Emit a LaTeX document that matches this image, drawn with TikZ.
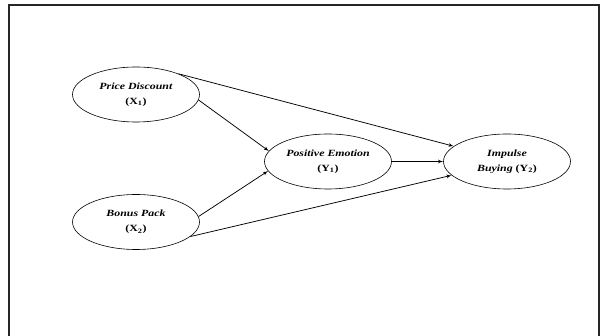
\documentclass[tikz,border=0pt]{standalone}
\usepackage{fontspec}
\setmainfont{Liberation Serif}
\newfontfamily\widefont[FakeStretch=1.25]{Liberation Serif}
\usetikzlibrary{arrows}
\usetikzlibrary{shapes.geometric}

\begin{document}
\begin{tikzpicture} [x=1pt, y=-1pt,
  var/.style={draw, line width=0.6, ellipse, minimum width=127, minimum height=55, inner sep=0, align=center,
    font=\widefont\fontsize{9.5}{15}\selectfont\bfseries},
  path/.style={black, line width=0.75, ->, >=latex'}]
\useasboundingbox (0,0) rectangle (608,336);
\draw[black!85, line width=2] (9,337) -- (9,5) -- (599,5) -- (599,337);
\node[var] (pd) at (136,94.5) {\textit{Price Discount}\\(X\textsubscript{1})};
\node[var] (bp) at (136,222) {\textit{Bonus Pack}\\(X\textsubscript{2})};
\node[var] (pe) at (328,161.5) {\textit{Positive Emotion}\\(Y\textsubscript{1})};
\node[var] (ib) at (507,161.5) {\textit{Impulse}\\\textit{Buying} (Y\textsubscript{2})};
\draw[path] (pd.-5) -- (pe.170);
\draw[path] (pd.26) -- (ib.164);
\draw[path] (bp.5) -- (pe.189);
\draw[path] (bp.-15) -- (ib.194);
\draw[path] (pe.east) -- (ib.west);
\end{tikzpicture}
\end{document}
